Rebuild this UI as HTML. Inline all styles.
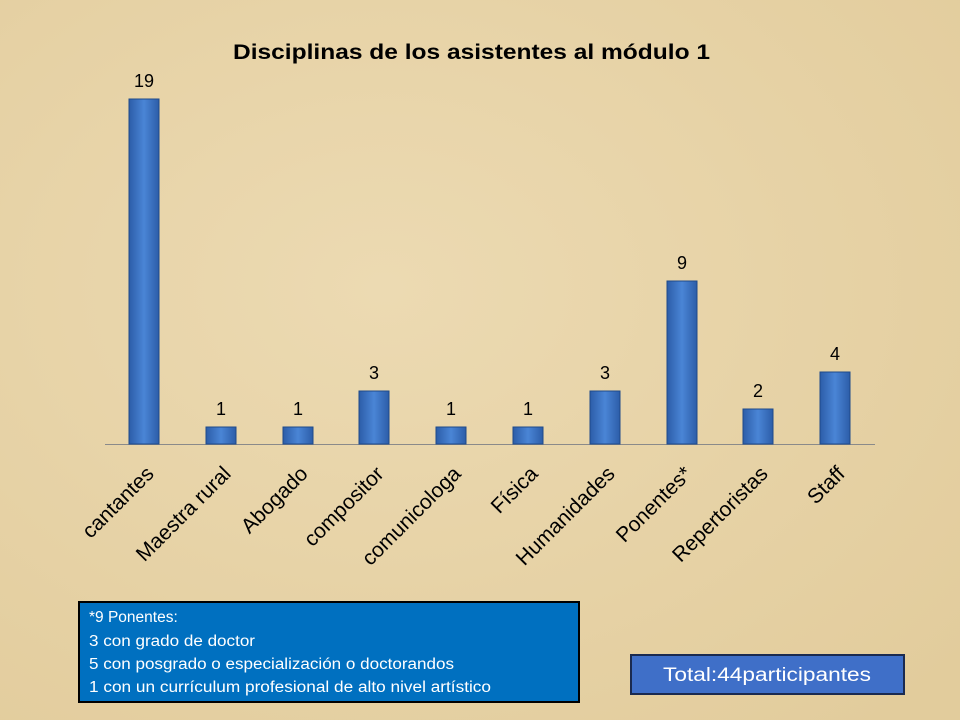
<!DOCTYPE html>
<html><head><meta charset="utf-8"><style>
html,body{margin:0;padding:0}
body{width:960px;height:720px;overflow:hidden;background:#e6d3a8;font-family:"Liberation Sans",sans-serif}
</style></head><body>
<svg width="960" height="720" xmlns="http://www.w3.org/2000/svg" style="position:absolute;left:0;top:0">
<defs>
<radialGradient id="g1" cx="0.4" cy="0.4" r="0.8"><stop offset="0" stop-color="#ecdab2"/><stop offset="1" stop-color="#e2cc9c"/></radialGradient>
<linearGradient id="bar" x1="0" x2="1" y1="0" y2="0"><stop offset="0" stop-color="#2c5da8"/><stop offset="0.5" stop-color="#4a85d6"/><stop offset="1" stop-color="#2c5da8"/></linearGradient>
</defs>
<rect width="960" height="720" fill="url(#g1)"/>
<text x="233" y="59" textLength="477" lengthAdjust="spacingAndGlyphs" font-size="21" font-weight="bold" fill="#000">Disciplinas de los asistentes al módulo 1</text>
<line x1="105" y1="444.5" x2="875" y2="444.5" stroke="#8a8a8a" stroke-width="1"/>
<g fill="url(#bar)" stroke="#1f4a8a" stroke-width="1">
<rect x="129" y="99" width="30" height="345"/>
<rect x="206" y="427" width="30" height="17"/>
<rect x="283" y="427" width="30" height="17"/>
<rect x="359" y="391" width="30" height="53"/>
<rect x="436" y="427" width="30" height="17"/>
<rect x="513" y="427" width="30" height="17"/>
<rect x="590" y="391" width="30" height="53"/>
<rect x="667" y="281" width="30" height="163"/>
<rect x="743" y="409" width="30" height="35"/>
<rect x="820" y="372" width="30" height="72"/>
</g>
<g font-size="18" text-anchor="middle" fill="#000">
<text x="144" y="87">19</text><text x="221" y="415">1</text><text x="298" y="415">1</text>
<text x="374" y="379">3</text><text x="451" y="415">1</text><text x="528" y="415">1</text>
<text x="605" y="379">3</text><text x="682" y="269">9</text><text x="758" y="397">2</text><text x="835" y="360">4</text>
</g>
<g font-size="21" text-anchor="end" fill="#000">
<text transform="translate(155,475) rotate(-45)">cantantes</text>
<text transform="translate(232,475) rotate(-45)">Maestra rural</text>
<text transform="translate(309,475) rotate(-45)">Abogado</text>
<text transform="translate(385,475) rotate(-45)">compositor</text>
<text transform="translate(462,475) rotate(-45)">comunicologa</text>
<text transform="translate(539,475) rotate(-45)">Física</text>
<text transform="translate(616,475) rotate(-45)">Humanidades</text>
<text transform="translate(693,475) rotate(-45)">Ponentes*</text>
<text transform="translate(769,475) rotate(-45)">Repertoristas</text>
<text transform="translate(846,475) rotate(-45)">Staff</text>
</g>
<rect x="79" y="602" width="500" height="100" fill="#0070c0" stroke="#000" stroke-width="2"/>
<g font-size="15.5" fill="#fff">
<text x="89" y="622">*9 Ponentes:</text>
<text x="89" y="646" textLength="166" lengthAdjust="spacingAndGlyphs">3 con grado de doctor</text>
<text x="89" y="669" textLength="365" lengthAdjust="spacingAndGlyphs">5 con posgrado o especialización o doctorandos</text>
<text x="89" y="692" textLength="402" lengthAdjust="spacingAndGlyphs">1 con un currículum profesional de alto nivel artístico</text>
</g>
<rect x="631" y="655" width="273" height="39" fill="#3f6fc8" stroke="#1a2a50" stroke-width="2"/>
<text x="663" y="681" textLength="208" lengthAdjust="spacingAndGlyphs" font-size="19" fill="#fff">Total:44participantes</text>
</svg>
</body></html>
